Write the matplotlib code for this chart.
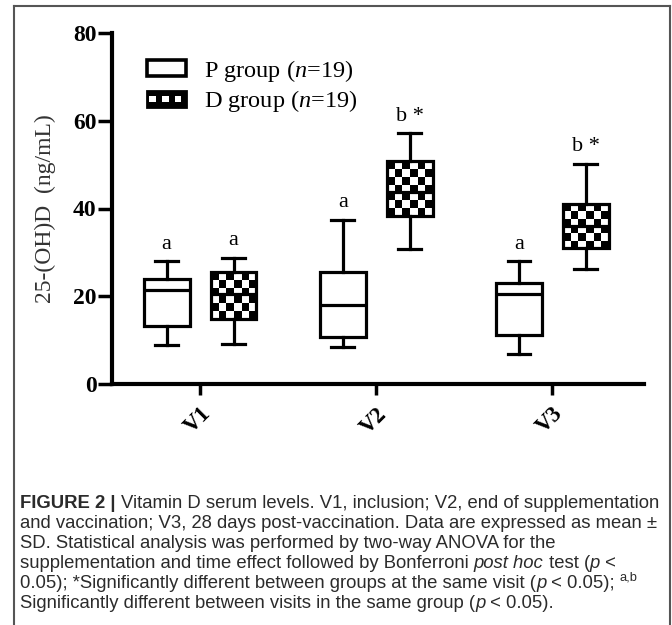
import numpy as np
import matplotlib
matplotlib.use('Agg')
import matplotlib.pyplot as plt
from matplotlib.patches import Rectangle
from matplotlib.legend_handler import HandlerBase
from matplotlib.lines import Line2D

# Data (ng/mL)
visits = ['V1', 'V2', 'V3']
p_whislo = [8.9, 8.5, 6.8]
p_q1 = [13.2, 10.6, 11.1]
p_med = [21.5, 18.0, 20.6]
p_q3 = [23.9, 25.5, 23.0]
p_whishi = [28.0, 37.4, 28.0]

d_whislo = [9.1, 30.8, 26.1]
d_q1 = [14.9, 38.4, 31.0]
d_med = [20.5, 43.7, 36.0]
d_q3 = [25.5, 50.9, 41.0]
d_whishi = [28.8, 57.2, 50.2]

p_marks = ['a', 'a', 'a']
d_marks = ['a', 'b *', 'b *']

plt.rcParams['font.family'] = ['Liberation Serif', 'DejaVu Serif']
plt.rcParams['mathtext.fontset'] = 'custom'
plt.rcParams['mathtext.rm'] = 'Liberation Serif'
plt.rcParams['mathtext.it'] = 'Liberation Serif:italic'
plt.rcParams['mathtext.bf'] = 'Liberation Serif:bold'

fig = plt.figure(figsize=(6.72, 6.25), dpi=100)
ax = fig.add_axes([0.1667, 0.3856, 0.7917, 0.5616])

pos = np.arange(1, len(visits) + 1)
off = 0.19
w = 0.26
lw = 2.3


def stats(lo, q1, med, q3, hi):
    return [dict(whislo=a, q1=b, med=c, q3=d, whishi=e, fliers=[])
            for a, b, c, d, e in zip(lo, q1, med, q3, hi)]


common = dict(widths=w, showfliers=False, patch_artist=True,
              whiskerprops=dict(color='black', lw=lw),
              capprops=dict(color='black', lw=lw),
              medianprops=dict(color='black', lw=lw))
ax.bxp(stats(p_whislo, p_q1, p_med, p_q3, p_whishi), positions=pos - off,
       boxprops=dict(facecolor='white', edgecolor='black', lw=lw), **common)
ax.bxp(stats(d_whislo, d_q1, d_med, d_q3, d_whishi), positions=pos + off,
       boxprops=dict(facecolor='none', edgecolor='black', lw=lw), **common)

ax.set_xlim(0.5, 3.52)
ax.set_ylim(0, 80)

# checkerboard fill for the D group
px_per_y = ax.get_window_extent().height / 80
px_per_x = ax.get_window_extent().width / (3.52 - 0.5)
ncol = 6
cell = w * px_per_x / ncol
for x, q1, q3 in zip(pos + off, d_q1, d_q3):
    nrow = max(2, int(round((q3 - q1) * px_per_y / cell)))
    chk = (np.add.outer(np.arange(nrow), np.arange(ncol)) % 2).astype(float)
    ax.imshow(chk, cmap='gray', extent=(x - w / 2, x + w / 2, q1, q3),
              aspect='auto', interpolation='nearest', zorder=1.5, vmin=0, vmax=1)
ax.set_xlim(0.5, 3.52)
ax.set_ylim(0, 80)

for x, hi, m in zip(pos - off, p_whishi, p_marks):
    ax.annotate(m, (x, hi), xytext=(0, 9), textcoords='offset points',
                ha='center', va='baseline', fontsize=16)
for x, hi, m in zip(pos + off, d_whishi, d_marks):
    ax.annotate(m, (x, hi), xytext=(0, 9), textcoords='offset points',
                ha='center', va='baseline', fontsize=16)

for s in ['top', 'right']:
    ax.spines[s].set_visible(False)
for s in ['left', 'bottom']:
    ax.spines[s].set_linewidth(3)
ax.set_xticks(pos)
ax.set_xticklabels(visits, rotation=45, ha='right', va='top',
                   rotation_mode='anchor', fontweight='bold', fontsize=16.5)
ax.set_yticks([0, 20, 40, 60, 80])
ax.set_yticklabels(['0', '20', '40', '60', '80'], fontweight='bold', fontsize=17)
ax.tick_params(axis='y', length=10, width=2.5, pad=1)
ax.tick_params(axis='x', length=8, width=2.5, pad=6)
ax.set_ylabel('25-(OH)D  (ng/mL)', fontsize=17, color='#333333', labelpad=12)


class CheckerHandler(HandlerBase):
    def create_artists(self, legend, orig_handle, xdescent, ydescent,
                       width, height, fontsize, trans):
        x0, y0 = -xdescent, -ydescent
        arts = [Rectangle((x0, y0), width, height, facecolor='black',
                          edgecolor='black', lw=2, transform=trans)]
        nc = 6
        cw = width / nc
        ch = height / 3
        for j in range(nc):
            if j % 2 == 0:
                arts.append(Rectangle((x0 + j * cw + cw * 0.3, y0 + ch), cw, ch,
                                      facecolor='white', edgecolor='none',
                                      transform=trans))
        return arts


class BoxHandler(HandlerBase):
    def create_artists(self, legend, orig_handle, xdescent, ydescent,
                       width, height, fontsize, trans):
        return [Rectangle((-xdescent, -ydescent), width, height, facecolor='white',
                          edgecolor='black', lw=2.6, transform=trans)]


h_p = Line2D([], [])
h_d = Line2D([], [], color='k')
ax.legend([h_p, h_d], ['P group ($n$=19)', 'D group ($n$=19)'],
          handler_map={h_p: BoxHandler(), h_d: CheckerHandler()},
          loc='center left', bbox_to_anchor=(0.066, 0.849), frameon=False,
          fontsize=17.5, handlelength=1.6, handleheight=0.65,
          handletextpad=0.75, labelspacing=0.2, borderpad=0, borderaxespad=0)

# outer frame
fig.add_artist(Line2D([14 / 672, 14 / 672], [0, 1 - 6 / 625], color='#555555', lw=1.5))
fig.add_artist(Line2D([14 / 672, 670 / 672], [1 - 6 / 625, 1 - 6 / 625], color='#555555', lw=1.5))
fig.add_artist(Line2D([670 / 672, 670 / 672], [0, 1 - 6 / 625], color='#555555', lw=1.5))

# caption, drawn piece by piece so mixed styles line up
cap_family = ['Liberation Sans', 'DejaVu Sans']
cap_size = 13.3
lines = [
    [('FIGURE 2 | ', dict(fontweight='bold')),
     ('Vitamin D serum levels. V1, inclusion; V2, end of supplementation', {})],
    [('and vaccination; V3, 28 days post-vaccination. Data are expressed as mean \u00b1', {})],
    [('SD. Statistical analysis was performed by two-way ANOVA for the', {})],
    [('supplementation and time effect followed by Bonferroni ', {}),
     ('post hoc', dict(style='italic')), (' test (', {}),
     ('p', dict(style='italic')), (' <', {})],
    [('0.05); *Significantly different between groups at the same visit (', {}),
     ('p', dict(style='italic')), (' < 0.05); ', {}), ('a,b', dict(sup=True))],
    [('Significantly different between visits in the same group (', {}),
     ('p', dict(style='italic')), (' < 0.05).', {})],
]
renderer = fig.canvas.get_renderer()
y = 1 - 508 / 625
for parts in lines:
    x = 20 / 672
    for s, kw in parts:
        kw = dict(kw)
        sup = kw.pop('sup', False)
        size = cap_size * 0.7 if sup else cap_size
        yy = y + (7 / 625 if sup else 0)
        t = fig.text(x, yy, s, family=cap_family, fontsize=size, color='#2b2b2b',
                     va='baseline', ha='left', **kw)
        x += t.get_window_extent(renderer).width / fig.bbox.width
    y -= 20 / 625

fig.savefig('out.png', dpi=100)
